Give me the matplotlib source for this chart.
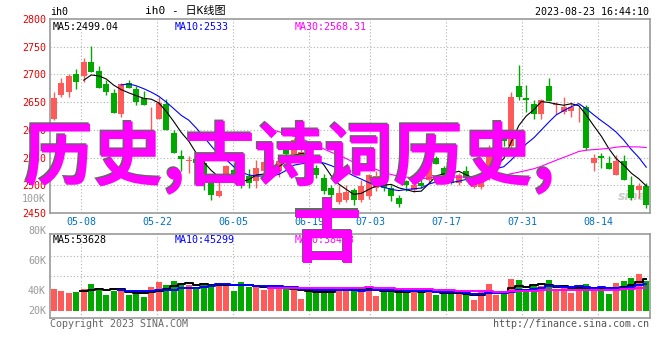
import matplotlib
matplotlib.use('Agg')
import matplotlib.pyplot as plt
import matplotlib.patheffects as pe
import numpy as np
import pandas as pd

# dados (80 pregões, 2023-04-27 .. 2023-08-23)
opens = [2620, 2662, 2669, 2700, 2698, 2722, 2706, 2683, 2667, 2629,
         2684, 2674, 2657, 2623, 2620, 2646, 2594, 2552, 2544, 2548,
         2540, 2507, 2480, 2517, 2528, 2520, 2516, 2507, 2525, 2530,
         2525, 2566, 2553, 2550, 2555, 2531, 2514, 2495, 2470, 2474,
         2492, 2474, 2480, 2495, 2510, 2495, 2477, 2507, 2492, 2505,
         2510, 2549, 2531, 2519, 2504, 2526, 2497, 2497, 2514, 2560,
         2585, 2570, 2679, 2658, 2646, 2629, 2679, 2644, 2632, 2634,
         2635, 2642, 2540, 2552, 2541, 2519, 2544, 2501, 2492, 2498]
highs = [2668, 2693, 2700, 2710, 2730, 2752, 2715, 2690, 2674, 2684,
         2690, 2679, 2671, 2642, 2660, 2656, 2600, 2564, 2552, 2552,
         2546, 2516, 2507, 2536, 2540, 2531, 2530, 2546, 2550, 2552,
         2555, 2572, 2586, 2580, 2560, 2537, 2520, 2500, 2500, 2500,
         2495, 2510, 2520, 2525, 2525, 2500, 2482, 2510, 2503, 2512,
         2548, 2552, 2534, 2522, 2522, 2534, 2512, 2516, 2572, 2590,
         2595, 2669, 2717, 2681, 2654, 2656, 2694, 2650, 2660, 2650,
         2642, 2645, 2556, 2558, 2552, 2555, 2555, 2516, 2504, 2504]
lows = [2617, 2659, 2659, 2674, 2687, 2705, 2676, 2663, 2631, 2624,
        2676, 2644, 2645, 2600, 2620, 2600, 2558, 2526, 2522, 2525,
        2492, 2474, 2478, 2510, 2515, 2495, 2495, 2496, 2520, 2522,
        2515, 2550, 2548, 2548, 2530, 2513, 2485, 2476, 2466, 2470,
        2465, 2470, 2476, 2490, 2490, 2472, 2460, 2490, 2488, 2495,
        2505, 2538, 2507, 2502, 2500, 2508, 2495, 2494, 2510, 2555,
        2570, 2565, 2654, 2633, 2620, 2620, 2652, 2628, 2628, 2624,
        2614, 2564, 2526, 2531, 2530, 2519, 2510, 2474, 2477, 2459]
closes = [2658, 2684, 2697, 2687, 2722, 2705, 2676, 2669, 2631, 2682,
          2676, 2650, 2645, 2624, 2648, 2600, 2558, 2547, 2545, 2540,
          2519, 2483, 2489, 2534, 2520, 2504, 2504, 2531, 2542, 2545,
          2544, 2556, 2582, 2560, 2535, 2519, 2489, 2482, 2486, 2487,
          2474, 2498, 2518, 2517, 2495, 2480, 2467, 2501, 2500, 2499,
          2546, 2539, 2519, 2504, 2519, 2513, 2510, 2513, 2566, 2572,
          2580, 2660, 2660, 2653, 2628, 2654, 2652, 2646, 2642, 2642,
          2636, 2568, 2549, 2549, 2530, 2544, 2510, 2477, 2498, 2465]
# volume em "K" na escala desenhada do gráfico
volumes = [42, 40, 38, 39, 42, 47, 43, 36, 40, 42,
           36, 37, 34, 44, 49, 46, 50, 48, 46, 42,
           48, 47, 48, 47, 40, 49, 44, 44, 41, 44,
           42, 44, 41, 32, 40, 40, 41, 43, 41, 43,
           41, 43, 42, 35, 39, 39, 41, 40, 39, 38,
           42, 36, 37, 37, 37, 38, 31, 39, 47, 36,
           40, 52, 51, 40, 45, 45, 51, 40, 43, 38,
           42, 47, 44, 41, 37, 48, 50, 53, 57, 50]

date_labels = ['05-08', '05-22', '06-05', '06-19', '07-03', '07-17', '07-31', '08-14']
date_index = [4, 14, 24, 34, 42, 52, 62, 72]
price_ticks = [2450, 2500, 2550, 2600, 2650, 2700, 2750, 2800]
vol_labels = ['100K', '80K', '60K', '40K', '20K']

RED = '#ff5a5a'
GREEN = '#00a800'
MONO = 'DejaVu Sans Mono'
FS = 7.2

o = np.array(opens)
h = np.array(highs)
l = np.array(lows)
c = np.array(closes)
v = np.array(volumes)
x = np.arange(len(c))
up = c >= o
cols = np.where(up, RED, GREEN)

# posição das linhas verticais (o site espaça um pouco mais que os candles)
grid_x = [3.67 + (d - 4) * 7.6 / 7.5 for d in date_index]

fig = plt.figure(figsize=(6.6, 3.6), dpi=100)
W, H = 660.0, 360.0


def px_axes(left, top, right, bottom):
    return fig.add_axes([left / W, 1 - bottom / H, (right - left) / W, (bottom - top) / H])


grid_kw = dict(color='#b0b0b0', linestyle=(0, (1, 2)), linewidth=0.8)

# ---- painel de preços ----
ax = px_axes(50, 19, 650, 213)
ax.set_xlim(-0.5, len(c) - 0.5)
ax.set_ylim(2450, 2800)
for gx in grid_x:
    ax.axvline(gx, zorder=0, **grid_kw)
for gy in price_ticks[1:-1]:
    ax.axhline(gy, zorder=0, **grid_kw)

ax.vlines(x, l, h, colors=cols, linewidth=1, zorder=2)
body_h = np.maximum(np.abs(c - o), 0.8)
ax.bar(x, body_h, bottom=np.minimum(o, c), width=0.8, color=cols, linewidth=0, zorder=3)

close_s = pd.Series(closes)
ax.plot(x, close_s.rolling(5).mean(), color='black', lw=0.8, zorder=4)
ax.plot(x, close_s.rolling(10).mean(), color='#0000ff', lw=0.8, zorder=4)
ax.plot(x, close_s.rolling(30).mean(), color='#ff00ff', lw=0.8, zorder=4)

ax.set_yticks(price_ticks)
ax.set_yticklabels([str(t) for t in price_ticks], color='#e60000', family=MONO, fontsize=FS)
ax.set_xticks(grid_x)
ax.set_xticklabels(date_labels, color='#0070c0', family=MONO, fontsize=FS)
ax.tick_params(length=0, pad=3)
for s in ax.spines.values():
    s.set_color('#999999')
    s.set_linewidth(1.2)

ax.text(0.005, 0.985, 'MA5:2499.04', transform=ax.transAxes, va='top', ha='left',
        family=MONO, fontsize=FS, color='black')
ax.text(0.207, 0.985, 'MA10:2533', transform=ax.transAxes, va='top', ha='left',
        family=MONO, fontsize=FS, color='#0000ff')
ax.text(0.408, 0.985, 'MA30:2568.31', transform=ax.transAxes, va='top', ha='left',
        family=MONO, fontsize=FS, color='#ff00ff')
ax.text(0.995, 0.05, 'sina', transform=ax.transAxes, ha='right', va='bottom',
        fontsize=9, style='italic', weight='bold', color='#cccccc', zorder=1)

# cabeçalho
fig.text(50 / W, 1 - 12 / H, 'ih0', family=MONO, fontsize=FS, va='center', ha='left')
fig.text(185 / W, 1 - 11 / H, 'ih0 - 日K线图', family=[MONO, 'Noto Sans CJK SC'],
         fontsize=8, va='center', ha='center')
fig.text(649 / W, 1 - 12 / H, '2023-08-23 16:44:10', family=MONO, fontsize=FS,
         va='center', ha='right')

# ---- painel de volume ----
axv = px_axes(50, 234, 650, 318)
axv.set_xlim(-0.5, len(c) - 0.5)
axv.set_ylim(13, 97)
for gx in grid_x:
    axv.axvline(gx, zorder=0, **grid_kw)
for gy in [55, 75]:
    axv.axhline(gy, zorder=0, **grid_kw)
axv.bar(x, v - 20, bottom=20, width=0.8, color=cols, linewidth=0, zorder=2)

vol_s = pd.Series(volumes)
axv.plot(x, vol_s.rolling(5).mean(), color='black', lw=1.4, drawstyle='steps-mid', zorder=3)
axv.plot(x, vol_s.rolling(10).mean(), color='#0000ff', lw=1.4, drawstyle='steps-mid', zorder=3)
axv.plot(x, vol_s.rolling(30).mean(), color='#ff00ff', lw=1.4, drawstyle='steps-mid', zorder=3)
axv.set_xticks([])
axv.set_yticks([])
for s in axv.spines.values():
    s.set_color('#999999')
    s.set_linewidth(1.2)

axv.text(0.005, 0.985, 'MA5:53628', transform=axv.transAxes, va='top', ha='left',
         family=MONO, fontsize=FS, color='black')
axv.text(0.207, 0.985, 'MA10:45299', transform=axv.transAxes, va='top', ha='left',
         family=MONO, fontsize=FS, color='#0000ff')
axv.text(0.408, 0.985, 'MA30:38433', transform=axv.transAxes, va='top', ha='left',
         family=MONO, fontsize=FS, color='#ff00ff')

for lab, py in zip(vol_labels, [199, 231, 261, 291, 311]):
    fig.text(46 / W, 1 - py / H, lab, family=MONO, fontsize=FS, color='#999999',
             ha='right', va='center')

fig.text(50 / W, 1 - 324 / H, 'Copyright 2023 SINA.COM', family=MONO, fontsize=FS,
         color='#666666', va='center', ha='left')
fig.text(649 / W, 1 - 324 / H, 'http://finance.sina.com.cn', family=MONO, fontsize=FS,
         color='#555555', va='center', ha='right')

# texto sobreposto
shadow = [pe.SimplePatchShadow(offset=(-1, 1), shadow_rgbFace='#666666', alpha=1), pe.Normal()]
fig.text(24 / W, 1 - 180 / H, '历史,古诗词历史,', family=['Noto Sans CJK SC', 'DejaVu Sans'],
         fontsize=50, weight='bold', color='#ff00ff', va='baseline', ha='left',
         path_effects=shadow)
fig.text(293 / W, 1 - 257 / H, '古', family=['Noto Sans CJK SC', 'DejaVu Sans'],
         fontsize=50, weight='bold', color='#ff00ff', va='baseline', ha='left',
         path_effects=shadow)

fig.savefig('out.png', dpi=100)
